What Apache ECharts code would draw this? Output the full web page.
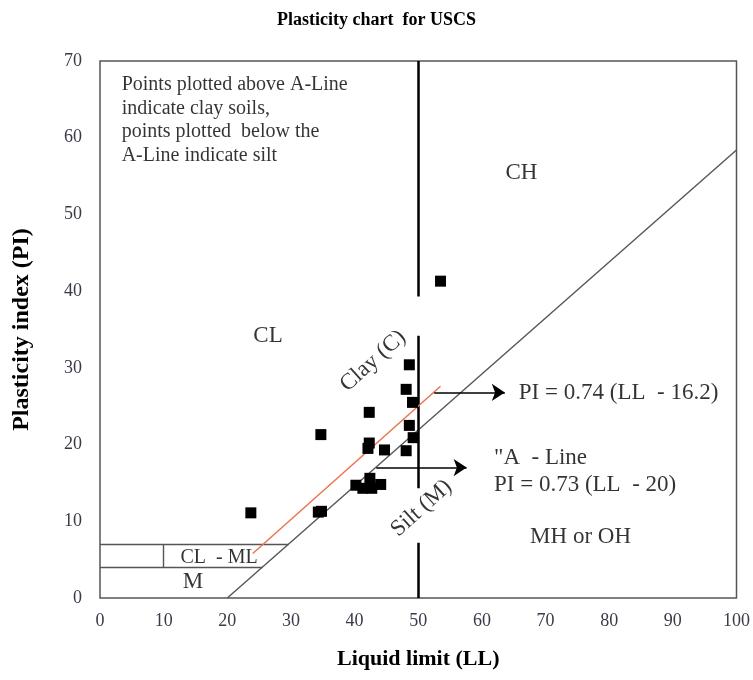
<!DOCTYPE html>
<html>
<head>
<meta charset="utf-8">
<script src="https://cdn.jsdelivr.net/npm/echarts@6/dist/echarts.min.js"></script>
<style>
  html, body { margin: 0; padding: 0; background: #fff; }
  #chart { width: 753px; height: 680px; }
</style>
</head>
<body>
<div id="chart"></div>
<script>
// Soil samples: liquid limit (LL) and plasticity index (PI)
const liquidLimit     = [23.7, 34.3, 34.8, 34.7, 40.2, 41.3, 42.7, 42.4, 44.1, 42.1, 42.3, 42.3, 44.7, 48.1, 48.6, 49.2, 49.1, 48.1, 48.6, 53.5];
const plasticityIndex = [11.1, 11.2, 11.3, 21.3, 14.7, 14.3, 14.3, 15.6, 14.8, 19.5, 20.2, 24.2, 19.3, 19.2, 22.5, 20.9, 25.5, 27.2, 30.4, 41.3];

// Reference lines of the chart, as [LL, PI] end points
const aLine      = [[20, 0], [100, 58.4]];          // PI = 0.73 (LL - 20)
const trendLine  = [[24, 5.8], [53.5, 27.6]];       // PI = 0.74 (LL - 16.2)
const clmlLines  = [
  [[0, 4], [25.5, 4]],
  [[0, 7], [29.6, 7]],
  [[10, 4], [10, 7]]
];
const llDivider  = [
  [[50, 0], [50, 7.2]],
  [[50, 14.3], [50, 34.2]],
  [[50, 39.3], [50, 70]]
];
const arrows     = [
  [[52.5, 26.8], [63.6, 26.8]],
  [[43.4, 17.0], [57.6, 17.0]]
];

// Zone and equation labels: [LL, PI, text, rotation, align, font size]
const zoneLabels = [
  [66.2, 55.4, 'CH', 0, 'center', 23],
  [26.4, 34.1, 'CL', 0, 'center', 23],
  [75.5, 7.9, 'MH or OH', 0, 'center', 23],
  [18.7, 5.3, 'CL  - ML', 0, 'center', 20],
  [14.6, 2.1, 'M', 0, 'center', 23],
  [42.9, 30.9, 'Clay (C)', 42, 'center', 23],
  [50.5, 11.7, 'Silt (M)', 42, 'center', 23],
  [65.8, 26.7, 'PI = 0.74 (LL  - 16.2)', 0, 'left', 23],
  [61.9, 18.2, '"A  - Line', 0, 'left', 23],
  [61.9, 14.7, 'PI = 0.73 (LL  - 20)', 0, 'left', 23]
];
const noteText = 'Points plotted above A-Line\nindicate clay soils,\npoints plotted  below the\nA-Line indicate silt';

const serif = '"Liberation Serif", "DejaVu Serif", serif';

const chart = echarts.init(document.getElementById('chart'));

function segmentSeries(segs, color, width, extra) {
  return Object.assign({
    type: 'lines',
    coordinateSystem: 'cartesian2d',
    silent: true,
    lineStyle: { color: color, width: width, opacity: 1 },
    data: segs.map(s => ({ coords: s }))
  }, extra || {});
}

chart.setOption({
  animation: false,
  title: {
    text: 'Plasticity chart  for USCS',
    left: 'center',
    top: 6,
    textStyle: { fontFamily: serif, fontWeight: 'bold', fontSize: 18, color: '#000' }
  },
  grid: {
    left: 100, right: 16, top: 61, bottom: 82,
    show: true, borderColor: '#555', borderWidth: 1.5, backgroundColor: '#fff'
  },
  xAxis: {
    type: 'value', min: 0, max: 100, interval: 10,
    name: 'Liquid limit (LL)', nameLocation: 'middle', nameGap: 50,
    nameTextStyle: { fontFamily: serif, fontWeight: 'bold', fontSize: 22, color: '#000' },
    axisLine: { show: false }, axisTick: { show: false }, splitLine: { show: false },
    axisLabel: { fontFamily: serif, fontSize: 18, color: '#3a3a48', margin: 14 }
  },
  yAxis: {
    type: 'value', min: 0, max: 70, interval: 10,
    name: 'Plasticity index (PI)', nameLocation: 'middle', nameGap: 66,
    nameTextStyle: { fontFamily: serif, fontWeight: 'bold', fontSize: 24, color: '#000' },
    axisLine: { show: false }, axisTick: { show: false }, splitLine: { show: false },
    axisLabel: { fontFamily: serif, fontSize: 18, color: '#3a3a48', margin: 18 }
  },
  series: [
    segmentSeries([aLine], '#555', 1.4),
    segmentSeries(clmlLines, '#555', 1.4),
    segmentSeries(llDivider, '#000', 2.5),
    segmentSeries([trendLine], '#ec7450', 1.5),
    segmentSeries(arrows, '#000', 1.5, { symbol: ['none', 'arrow'], symbolSize: 13 }),
    {
      type: 'scatter',
      symbol: 'rect',
      symbolSize: 11,
      itemStyle: { color: '#000', opacity: 1 },
      data: liquidLimit.map((ll, i) => [ll, plasticityIndex[i]]),
      z: 5
    },
    {
      type: 'scatter',
      symbolSize: 0,
      silent: true,
      z: 6,
      data: zoneLabels.map(d => ({
        value: [d[0], d[1]],
        label: {
          show: true, position: 'inside', formatter: d[2],
          rotate: d[3], align: d[4], verticalAlign: 'middle',
          fontFamily: serif, fontSize: d[5], color: '#000'
        }
      })).concat([{
        value: [3.4, 68.4],
        label: {
          show: true, position: 'inside', formatter: noteText,
          align: 'left', verticalAlign: 'top', lineHeight: 23.5,
          fontFamily: serif, fontSize: 20, color: '#000'
        }
      }])
    }
  ]
});
</script>
</body>
</html>
